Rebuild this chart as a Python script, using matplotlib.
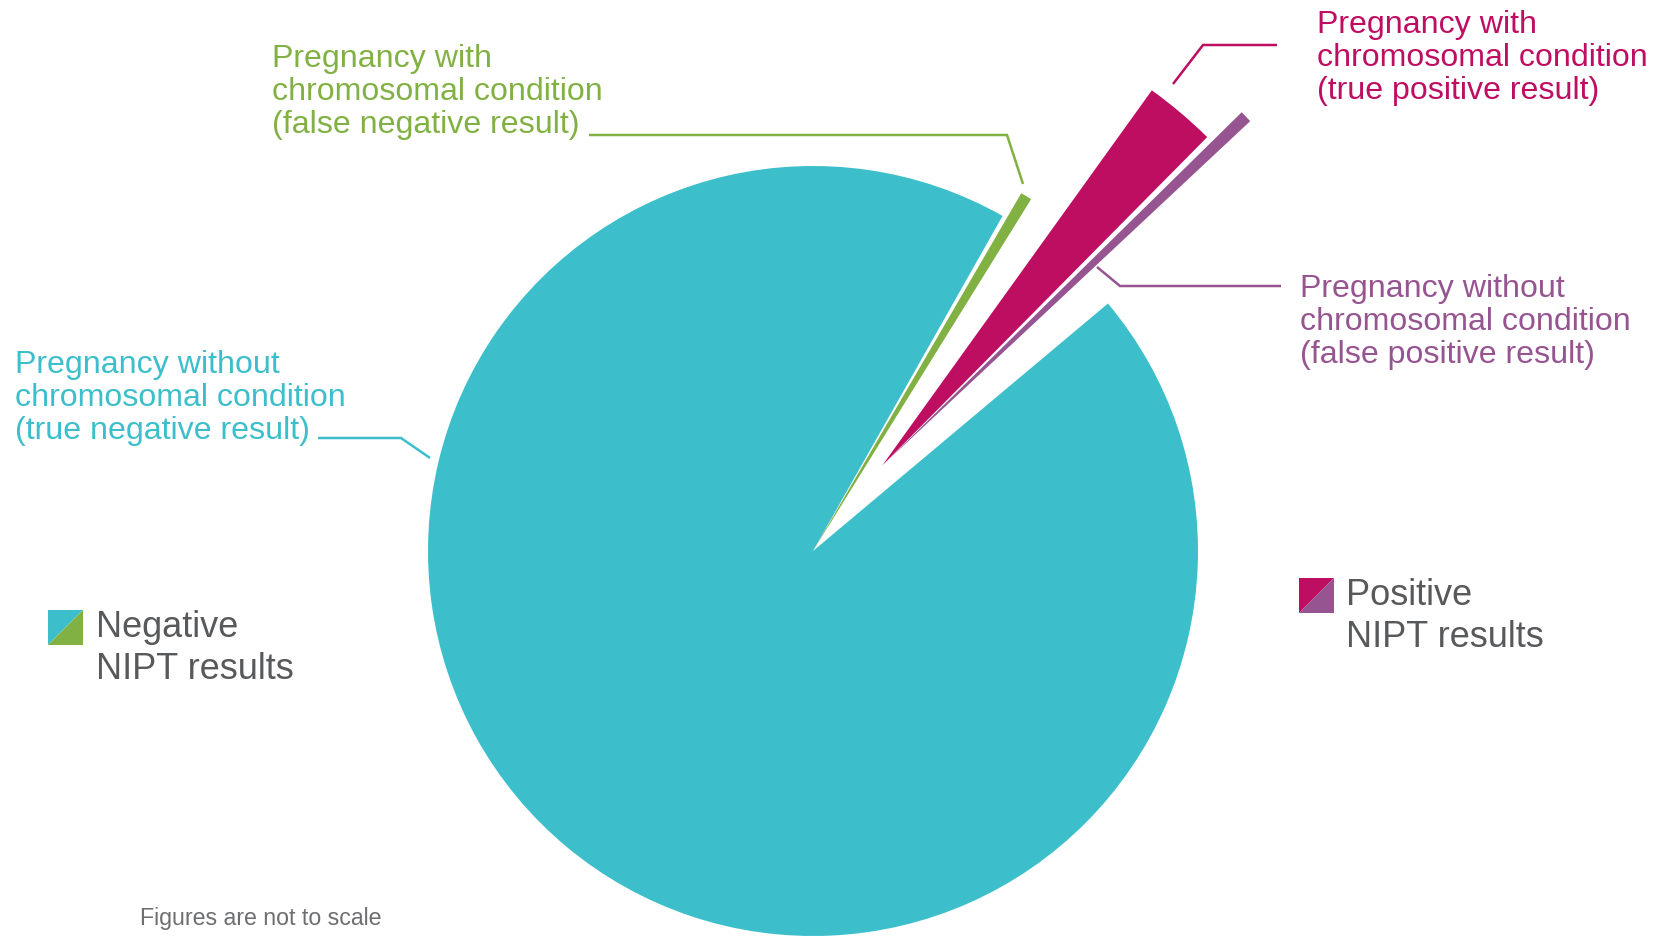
import matplotlib
matplotlib.use("Agg")
import matplotlib.pyplot as plt
import numpy as np
from matplotlib.patches import Polygon

W, H = 1662, 937

# ---------------- data (arc in degrees as drawn; figure is not to scale) ----
categories = ["True negative", "False negative", "True positive", "False positive"]
shares = [339.5, 1.6, 9.0, 1.4]
labels = [
    "Pregnancy without\nchromosomal condition\n(true negative result)",
    "Pregnancy with\nchromosomal condition\n(false negative result)",
    "Pregnancy with\nchromosomal condition\n(true positive result)",
    "Pregnancy without\nchromosomal condition\n(false positive result)",
]
legend_labels = ["Negative\nNIPT results", "Positive\nNIPT results"]
footnote = "Figures are not to scale"

# ---------------- styles / layout ----------------
colors = ["#3cbfcb", "#82b143", "#be0e62", "#965590"]
text_gray = "#58595b"
foot_gray = "#6d6e70"
gaps_after = [0.7, 3.9, 0.8, 3.1]          # white gap following each slice (deg)
radii = [385, 414, 462, 504]                # px
explode_px = [0, 0, 110, 110]               # offset distance
explode_dir = [0, 0, 51.0, 51.0]            # offset direction (deg)
center = (813, H - 552)
start_angle = 40.0

label_pos = [(15, 373), (272, 67), (1317, 33), (1300, 297)]  # x, first baseline (px from top)
label_pitch = 33
leaders = [
    [(318, 439), (401, 439), (430, 459)],
    [(589, 136), (1007, 136), (1023, 185)],
    [(1173, 85), (1203, 46), (1277, 46)],
    [(1097, 268), (1120, 287), (1281, 287)],
]

plt.rcParams["font.family"] = ["Liberation Sans", "DejaVu Sans"]
fig = plt.figure(figsize=(W / 100, H / 100), dpi=100)
ax = fig.add_axes([0, 0, 1, 1])

sizes, cols = [], []
for s, g, c in zip(shares, gaps_after, colors):
    sizes += [s, g]
    cols += [c, "none"]

wedges, _ = ax.pie(sizes, colors=cols, startangle=start_angle, counterclock=False,
                   center=center, radius=radii[0], frame=False,
                   wedgeprops=dict(linewidth=0, antialiased=True))
for i, w in enumerate(wedges):
    if i % 2 == 1:
        w.set_visible(False)
        continue
    k = i // 2
    w.set_radius(radii[k])
    a = np.deg2rad(explode_dir[k])
    w.set_center((center[0] + explode_px[k] * np.cos(a),
                  center[1] + explode_px[k] * np.sin(a)))

ax.set_xlim(0, W)
ax.set_ylim(0, H)
ax.set_aspect("auto")
ax.axis("off")

# labels
for lab, (x, y0), col in zip(labels, label_pos, colors):
    for j, line in enumerate(lab.split("\n")):
        ax.text(x, H - (y0 + j * label_pitch), line, color=col, fontsize=23.1,
                ha="left", va="baseline")

# leader lines
for pts, col in zip(leaders, colors):
    xs = [p[0] for p in pts]
    ys = [H - p[1] for p in pts]
    ax.plot(xs, ys, color=col, lw=1.8, solid_capstyle="butt", solid_joinstyle="miter")

# legend boxes (split diagonally)
legend_boxes = [((48, 611, 35), colors[0], colors[1], (96, 637)),
                ((1299, 579, 35), colors[2], colors[3], (1346, 605))]
for (box, c1, c2, (tx, ty)), lab in zip(legend_boxes, legend_labels):
    bx, by, bs = box
    top, bot = H - by, H - (by + bs)
    ax.add_patch(Polygon([(bx, top), (bx + bs, top), (bx, bot)], closed=True,
                         facecolor=c1, edgecolor="none"))
    ax.add_patch(Polygon([(bx + bs, top), (bx + bs, bot), (bx, bot)], closed=True,
                         facecolor=c2, edgecolor="none"))
    for j, line in enumerate(lab.split("\n")):
        ax.text(tx, H - (ty + j * 42), line, color=text_gray, fontsize=26,
                ha="left", va="baseline")

ax.text(140, H - 925, footnote, color=foot_gray, fontsize=16.7, ha="left", va="baseline")

fig.savefig("out.png", dpi=100, facecolor="white")
